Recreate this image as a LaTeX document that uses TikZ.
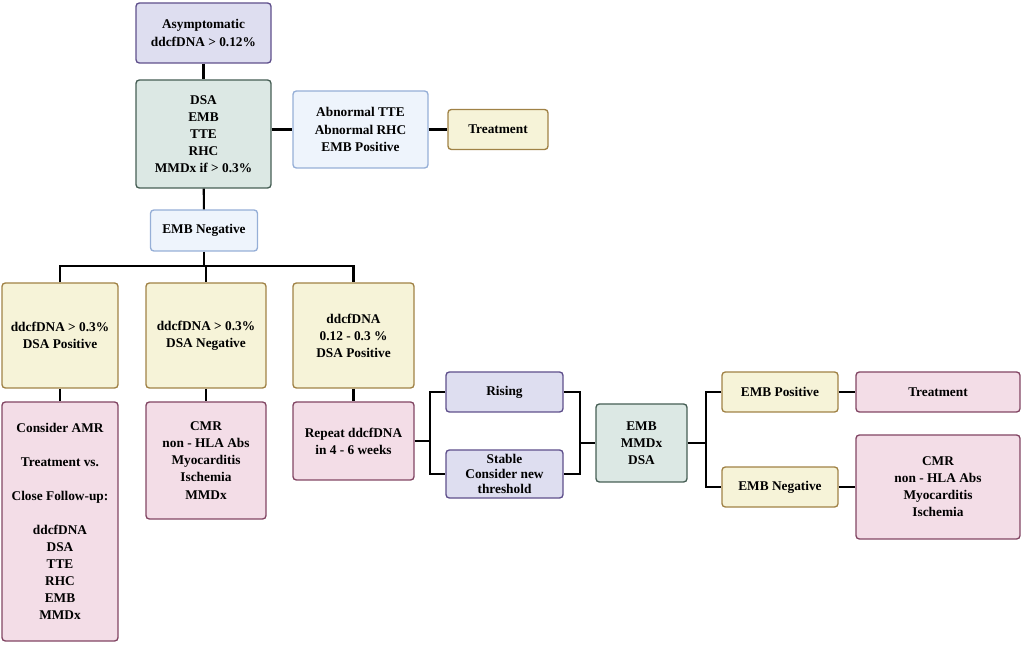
\documentclass[tikz,border=0pt]{standalone}
\usepackage{fontspec}
\setmainfont{Liberation Serif}
\begin{document}
\begin{tikzpicture}[x=0.75pt,y=-0.75pt,
  box/.style 2 args={draw,line width=1pt,rounded corners=2.5pt,minimum width=#1*0.75pt,minimum height=#2*0.75pt,inner sep=1pt,align=center,font=\bfseries\fontsize{10}{12.8}\selectfont},
  lav/.style={fill={rgb,255:red,222;green,222;blue,240},draw={rgb,255:red,95;green,80;blue,140}},
  teal/.style={fill={rgb,255:red,220;green,232;blue,228},draw={rgb,255:red,70;green,95;blue,85}},
  blu/.style={fill={rgb,255:red,238;green,244;blue,252},draw={rgb,255:red,150;green,175;blue,215}},
  yel/.style={fill={rgb,255:red,246;green,243;blue,216},draw={rgb,255:red,160;green,130;blue,70}},
  pnk/.style={fill={rgb,255:red,243;green,221;blue,231},draw={rgb,255:red,130;green,70;blue,100}},
  ln/.style={line width=1.6pt}]
\useasboundingbox (0,0) rectangle (1022,645);
\node[box={135}{60},lav] (A) at (203.5,33) {Asymptomatic\\ddcfDNA > 0.12\%};
\node[box={135}{108},teal] (B) at (203.5,134) {DSA\\EMB\\TTE\\RHC\\MMDx if > 0.3\%};
\node[box={135}{77},blu] (C) at (360.5,129.5) {Abnormal TTE\\Abnormal RHC\\EMB Positive};
\node[box={100}{40},yel] (D) at (498,129.5) {Treatment};
\node[box={107}{41},blu] (E) at (204,230.5) {EMB Negative};
\node[box={116}{105},yel] (F1) at (60,335.5) {ddcfDNA > 0.3\%\\DSA Positive};
\node[box={120}{105},yel] (F2) at (206,335.5) {ddcfDNA > 0.3\%\\DSA Negative};
\node[box={121}{105},yel] (F3) at (353.5,335.5) {ddcfDNA\\0.12 - 0.3 \%\\DSA Positive};
\node[box={116}{239},pnk] (G1) at (60,521.5) {Consider AMR\\[12.8pt]Treatment vs.\\[12.8pt]Close Follow-up:\\[12.8pt]ddcfDNA\\DSA\\TTE\\RHC\\EMB\\MMDx};
\node[box={120}{117},pnk] (G2) at (206,460.5) {CMR\\non - HLA Abs\\Myocarditis\\Ischemia\\MMDx};
\node[box={121}{78},pnk] (G3) at (353.5,441) {Repeat ddcfDNA\\in 4 - 6 weeks};
\node[box={117}{40},lav] (H1) at (504.5,392) {Rising};
\node[box={117}{48},lav,font=\bfseries\fontsize{10}{11.5}\selectfont] (H2) at (504.5,474) {Stable\\Consider new\\threshold};
\node[box={91}{78},teal] (I) at (641.5,443) {EMB\\MMDx\\DSA};
\node[box={116}{40},yel] (J1) at (780,392) {EMB Positive};
\node[box={116}{40},yel] (J2) at (780,487) {EMB Negative};
\node[box={164}{40},pnk] (K1) at (938,392) {Treatment};
\node[box={164}{104},pnk] (K2) at (938,487) {CMR\\non - HLA Abs\\Myocarditis\\Ischemia};
\coordinate (bus) at (204,266);
\coordinate (s1) at (430,441);
\coordinate (m1) at (580,443);
\coordinate (s2) at (706,443);
\draw[ln] (A) -- (B);
\draw[ln] (C.west -| B.east) -- (C.west);
\draw[ln] (C) -- (D);
\draw[ln] (B) -- (E);
\draw[ln] (E) -- (bus);
\draw[ln] (F1.north) |- (bus) -| (F3.north);
\draw[ln] (bus) -| (F2.north);
\draw[ln] (F1) -- (G1);
\draw[ln] (F2) -- (G2);
\draw[ln] (F3) -- (G3);
\draw[ln] (G3) -- (s1);
\draw[ln] (H1.west) -| (s1) |- (H2.west);
\draw[ln] (H1.east) -| (m1) |- (H2.east);
\draw[ln] (m1) -- (I.west);
\draw[ln] (I.east) -- (s2);
\draw[ln] (J1.west) -| (s2) |- (J2.west);
\draw[ln] (J1) -- (K1);
\draw[ln] (J2) -- (K2);
\end{tikzpicture}
\end{document}
